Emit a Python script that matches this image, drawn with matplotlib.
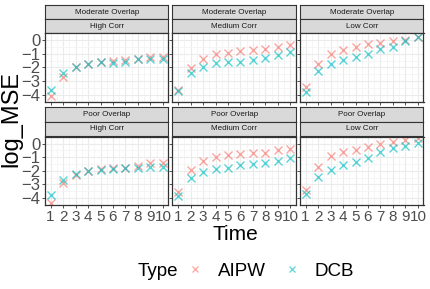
import matplotlib
matplotlib.use("Agg")
import matplotlib.pyplot as plt
from matplotlib.lines import Line2D

plt.rcParams['font.family'] = ['Liberation Sans', 'DejaVu Sans']

# data
time = [1, 2, 3, 4, 5, 6, 7, 8, 9, 10]

mod_high_aipw = [-4.07, -2.69, -1.94, -1.75, -1.58, -1.53, -1.48, -1.4, -1.24, -1.22]
mod_high_dcb = [-3.66, -2.45, -1.94, -1.77, -1.6, -1.65, -1.6, -1.42, -1.38, -1.4]
mod_med_aipw = [-3.65, -2.07, -1.4, -1.04, -0.92, -0.8, -0.75, -0.67, -0.51, -0.38]
mod_med_dcb = [-3.7, -2.42, -1.97, -1.71, -1.64, -1.57, -1.47, -1.28, -1.11, -0.87]
mod_low_aipw = [-3.42, -1.72, -0.99, -0.73, -0.5, -0.27, -0.2, -0.07, -0.02, 0.25]
mod_low_dcb = [-3.83, -2.3, -1.72, -1.48, -1.21, -1.04, -0.68, -0.48, -0.1, 0.23]

poor_high_aipw = [-4.35, -2.9, -2.3, -2.05, -1.9, -1.82, -1.78, -1.68, -1.45, -1.45]
poor_high_dcb = [-3.78, -2.65, -2.22, -2.0, -1.92, -1.84, -1.82, -1.82, -1.7, -1.72]
poor_med_aipw = [-3.55, -1.92, -1.28, -0.96, -0.84, -0.79, -0.71, -0.67, -0.49, -0.41]
poor_med_dcb = [-3.87, -2.5, -2.1, -1.9, -1.82, -1.6, -1.53, -1.45, -1.28, -1.08]
poor_low_aipw = [-3.38, -1.7, -0.88, -0.6, -0.47, -0.24, -0.05, 0.1, 0.26, 0.37]
poor_low_dcb = [-3.68, -2.47, -1.92, -1.6, -1.36, -1.04, -0.61, -0.36, -0.15, 0.02]

overlaps = ["Moderate Overlap", "Poor Overlap"]
corrs = ["High Corr", "Medium Corr", "Low Corr"]
panels = [
    [(mod_high_aipw, mod_high_dcb), (mod_med_aipw, mod_med_dcb), (mod_low_aipw, mod_low_dcb)],
    [(poor_high_aipw, poor_high_dcb), (poor_med_aipw, poor_med_dcb), (poor_low_aipw, poor_low_dcb)],
]
types = ["AIPW", "DCB"]
colors = ["#F8766D", "#00BFC4"]

W, H = 431, 289
fig = plt.figure(figsize=(W / 100, H / 100), dpi=100)

def box(x0, y0, w, h):
    return [x0 / W, 1 - (y0 + h) / H, w / W, h / H]

lefts = [45, 172.5, 300]
pw = 123.5
rows = [(5, 33.3), (107.3, 136.7)]  # strip top, panel top
ph = 68.4
sh = 14.2
dark = "#333333"

for r in range(2):
    stop, ptop = rows[r]
    for c in range(3):
        x0 = lefts[c]
        # strips
        for k, lab in enumerate([overlaps[r], corrs[c]]):
            sa = fig.add_axes(box(x0, stop + k * sh, pw, sh))
            sa.set_facecolor("#D9D9D9")
            sa.set_xticks([])
            sa.set_yticks([])
            for s in sa.spines.values():
                s.set_color(dark)
                s.set_linewidth(0.8)
            sa.text(0.5, 0.48, lab, ha="center", va="center", fontsize=5.8,
                    color="#1A1A1A", transform=sa.transAxes)
        ax = fig.add_axes(box(x0, ptop, pw, ph))
        ax.set_xlim(0.55, 10.45)
        ax.set_ylim(-4.52, 0.5)
        ax.set_xticks(time)
        ax.set_xticks([t + 0.5 for t in time[:-1]], minor=True)
        ax.set_yticks([-4, -3, -2, -1, 0])
        ax.set_yticks([-4.5, -3.5, -2.5, -1.5, -0.5], minor=True)
        ax.grid(True, which="major", color="#EBEBEB", lw=0.8)
        ax.grid(True, which="minor", color="#F2F2F2", lw=0.5)
        ax.set_axisbelow(True)
        for s in ax.spines.values():
            s.set_color(dark)
            s.set_linewidth(0.9)
        ax.tick_params(which="minor", length=0)
        ax.tick_params(which="major", length=2.5, width=0.6, color=dark,
                       labelcolor="#4D4D4D", labelsize=12, pad=1)
        if r == 0:
            ax.tick_params(labelbottom=False)
        else:
            ax.set_xticklabels([str(t) for t in time], fontsize=11)
        if c == 0:
            ax.set_yticklabels(["\u22124", "\u22123", "\u22122", "\u22121", "0"])
        else:
            ax.tick_params(labelleft=False)
        for vals, col in zip(panels[r][c], colors):
            ax.plot(time, vals, "x", color=col, ms=5.2, mew=1.0, alpha=0.65,
                    linestyle="none")

fig.text(11 / W, 1 - 119 / H, "log_MSE", rotation=90, ha="center", va="center",
         fontsize=17)
fig.text(235 / W, 1 - 234 / H, "Time", ha="center", va="center", fontsize=15)

# legend
fig.text(138 / W, 1 - 271 / H, "Type", ha="left", va="center", fontsize=13.5)
handles = [Line2D([], [], marker="x", color=col, linestyle="none", ms=4.5, mew=0.9,
                  alpha=0.65) for col in colors]
fig.legend(handles, types, loc="center left", bbox_to_anchor=(184 / W, 1 - 271 / H),
           ncol=2, frameon=False, fontsize=13.5, handlelength=1.2,
           handletextpad=0.6, columnspacing=0.8, borderaxespad=0, borderpad=0)

fig.savefig("out.png", dpi=100)
